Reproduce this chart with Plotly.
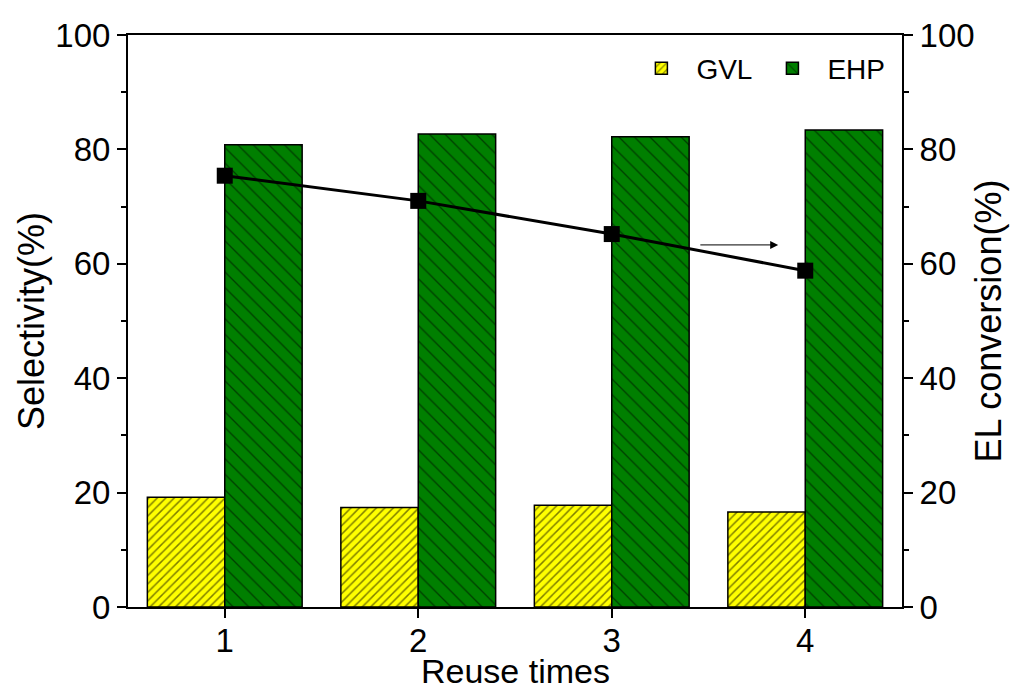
import plotly.graph_objects as go

reuse = [1, 2, 3, 4]
gvl_sel = [19.2, 17.4, 17.8, 16.6]
ehp_sel = [80.8, 82.7, 82.2, 83.4]
el_conv = [75.4, 71.0, 65.2, 58.8]

FONT = "Liberation Sans, Arial, sans-serif"

fig = go.Figure()
fig.add_trace(go.Bar(
    x=reuse, y=gvl_sel, name="GVL",
    marker=dict(color="#ffff00", line=dict(color="black", width=1.5),
                pattern=dict(shape="/", size=6, solidity=0.25, fgcolor="black", bgcolor="#ffff00")),
))
fig.add_trace(go.Bar(
    x=reuse, y=ehp_sel, name="EHP",
    marker=dict(color="#007f00", line=dict(color="black", width=1.5),
                pattern=dict(shape="\\", size=11, solidity=0.12, fgcolor="black", bgcolor="#007f00")),
))
fig.add_trace(go.Scatter(
    x=reuse, y=el_conv, yaxis="y2", mode="lines+markers", showlegend=False,
    line=dict(color="black", width=3),
    marker=dict(symbol="square", size=16, color="black"),
))

fig.add_annotation(
    x=3.86, y=63.3, ax=3.45, ay=63.3, xref="x", yref="y2", axref="x", ayref="y2",
    showarrow=True, arrowhead=2, arrowsize=1.6, arrowwidth=1, arrowcolor="black", text="",
)
fig.add_annotation(
    text="Reuse times", xref="paper", yref="paper", x=0.5, y=-0.112,
    xanchor="center", yanchor="middle", showarrow=False,
    font=dict(family=FONT, size=34, color="black"),
)

axis_common = dict(
    showline=True, linecolor="black", linewidth=2,
    ticks="outside", tickwidth=2, ticklen=9, tickcolor="black",
    tickfont=dict(family=FONT, size=33, color="black"),
    showgrid=False, zeroline=False, automargin=False,
)

fig.update_layout(
    width=1011, height=691,
    margin=dict(l=128, r=109, t=35, b=84),
    paper_bgcolor="white", plot_bgcolor="white",
    barmode="group", bargap=0.2, bargroupgap=0,
    font=dict(family=FONT, color="black"),
    xaxis=dict(**axis_common, range=[0.5, 4.5], tickvals=reuse, mirror=True,
               ticklabelstandoff=-6),
    yaxis=dict(**axis_common, range=[0, 100], tickvals=[0, 20, 40, 60, 80, 100],
               minor=dict(ticks="outside", ticklen=5, tickwidth=2, tickcolor="black", dtick=10),
               title=dict(text="Selectivity(%)", font=dict(family=FONT, size=36), standoff=0)),
    yaxis2=dict(**axis_common, range=[0, 100], tickvals=[0, 20, 40, 60, 80, 100],
                overlaying="y", side="right",
                minor=dict(ticks="outside", ticklen=5, tickwidth=2, tickcolor="black", dtick=10),
                title=dict(text="EL conversion(%)", font=dict(family=FONT, size=36), standoff=2)),
    legend=dict(orientation="h", x=0.985, y=0.985, xanchor="right", yanchor="top",
                font=dict(family=FONT, size=28, color="black"), bgcolor="rgba(0,0,0,0)",
                itemwidth=60),
)

fig.write_html("out.html")
